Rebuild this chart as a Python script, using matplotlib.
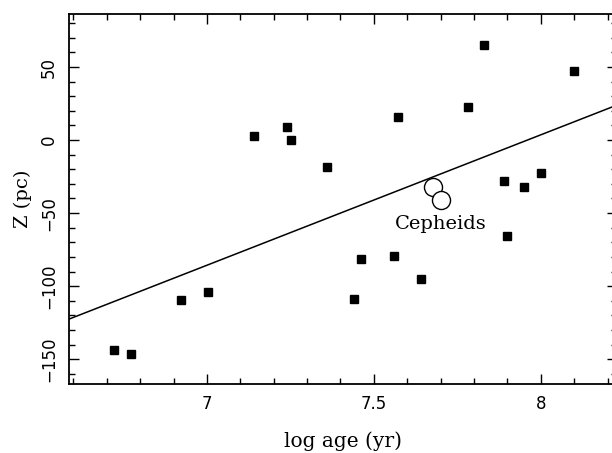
import matplotlib
matplotlib.use("Agg")
import matplotlib.pyplot as plt
from matplotlib.ticker import MultipleLocator

# Data
log_age = [6.723, 6.774, 6.922, 7.002, 7.142, 7.241, 7.251, 7.360, 7.440, 7.460,
           7.561, 7.571, 7.640, 7.783, 7.830, 7.889, 7.899, 7.950, 8.000, 8.100]
z_pc = [-143.4, -146.6, -109.6, -104.3, 2.9, 9.1, -0.2, -18.7, -108.9, -81.5,
        -79.5, 16.0, -95.0, 22.8, 65.1, -28.1, -65.8, -32.4, -22.4, 47.1]
cepheid_age = [7.678, 7.700]
cepheid_z = [-32.0, -41.1]
fit_slope = 89.3
fit_intercept = -710.8
x_ticks = [7, 7.5, 8]
y_ticks = [-150, -100, -50, 0, 50]

TXT_FONT = 'DejaVu Serif'

fig = plt.figure(figsize=(6.12, 4.53), dpi=100)
ax = fig.add_axes([69/612, (453-384)/453, (617-69)/612, (384-14)/453])

ax.plot(log_age, z_pc, 's', color='black', ms=6, mec='black')
ax.plot(cepheid_age, cepheid_z, 'o', mfc='white', mec='black', ms=13, mew=1.0)
ax.axline((0, fit_intercept), slope=fit_slope, color='black', lw=1.1)
ax.text(7.70, -57.5, 'Cepheids', ha='center', va='center',
        fontsize=14, family=TXT_FONT)

ax.set_xlim(6.587, 8.228)
ax.set_ylim(-167, 86.3)
ax.set_xticks(x_ticks)
ax.set_xticklabels(['7', '7.5', '8'])
ax.set_yticks(y_ticks)
ax.xaxis.set_minor_locator(MultipleLocator(0.1))
ax.yaxis.set_minor_locator(MultipleLocator(10))
ax.tick_params(which='both', direction='in', top=True, right=True, color='black')
ax.tick_params(which='major', length=7, width=1, labelsize=12, pad=8)
ax.tick_params(which='minor', length=4, width=1)
for lab in ax.get_yticklabels():
    lab.set_rotation(90)
    lab.set_va('center')
for s in ax.spines.values():
    s.set_linewidth(1.3)

ax.set_xlabel('log age (yr)', fontsize=14.5, family=TXT_FONT, labelpad=13)
ax.set_ylabel('Z (pc)', fontsize=14, family=TXT_FONT, labelpad=6)

fig.savefig('out.png', dpi=100)
